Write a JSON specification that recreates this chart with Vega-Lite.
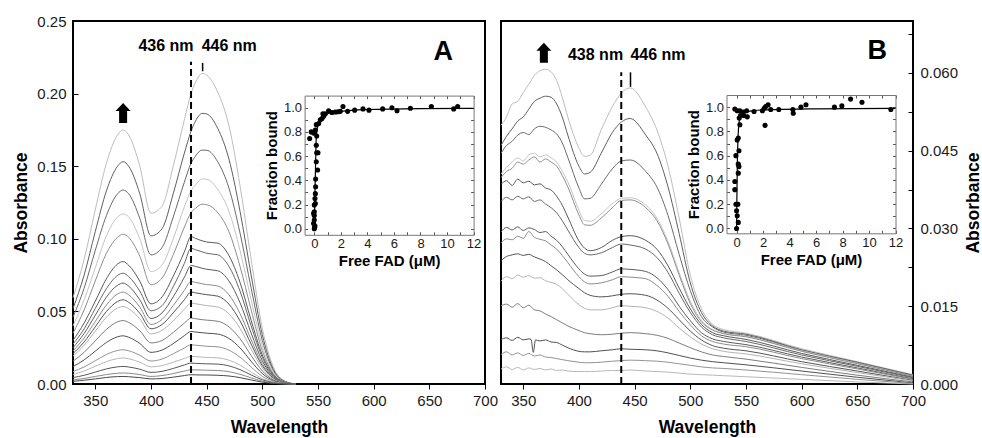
{
"$schema": "https://vega.github.io/schema/vega-lite/v6.json",
"padding": {"left": 11, "top": 13, "right": 0, "bottom": 0},
"background": "white",
"spacing": 16,
"bounds": "flush",
"config": {
 "font": "Liberation Sans",
 "view": {"stroke": "#000", "strokeWidth": 2},
 "axis": {"labelFont": "Liberation Sans", "labelFontSize": 15, "labelColor": "#1a1a1a", "titleFont": "Liberation Sans", "titleFontSize": 17.5, "titleFontWeight": "bold", "titleColor": "#000", "grid": false, "tickColor": "#000", "domainColor": "#000", "labelFlush": false, "labelOverlap": false, "labelBound": false}
},
"datasets": {
"specA": [
{"c":"a01","w":330,"a":0.0595},{"c":"a01","w":340,"a":0.0858},{"c":"a01","w":350,"a":0.120},{"c":"a01","w":360,"a":0.152},{"c":"a01","w":370,"a":0.1715},{"c":"a01","w":375,"a":0.175},{"c":"a01","w":380,"a":0.1715},{"c":"a01","w":390,"a":0.150},{"c":"a01","w":400,"a":0.1176},{"c":"a01","w":410,"a":0.1225},{"c":"a01","w":420,"a":0.150},{"c":"a01","w":430,"a":0.182},{"c":"a01","w":436,"a":0.200},{"c":"a01","w":440,"a":0.2075},{"c":"a01","w":446,"a":0.2139},{"c":"a01","w":450,"a":0.2128},{"c":"a01","w":460,"a":0.201},{"c":"a01","w":470,"a":0.178},{"c":"a01","w":480,"a":0.1365},{"c":"a01","w":490,"a":0.0858},{"c":"a01","w":500,"a":0.0385},{"c":"a01","w":510,"a":0.0117},{"c":"a01","w":520,"a":0.002},{"c":"a01","w":530,"a":0},
{"c":"a02","w":330,"a":0.052},{"c":"a02","w":340,"a":0.075},{"c":"a02","w":350,"a":0.105},{"c":"a02","w":360,"a":0.133},{"c":"a02","w":370,"a":0.150},{"c":"a02","w":375,"a":0.1531},{"c":"a02","w":380,"a":0.150},{"c":"a02","w":390,"a":0.131},{"c":"a02","w":400,"a":0.102},{"c":"a02","w":410,"a":0.107},{"c":"a02","w":420,"a":0.131},{"c":"a02","w":430,"a":0.159},{"c":"a02","w":436,"a":0.174},{"c":"a02","w":440,"a":0.181},{"c":"a02","w":446,"a":0.1864},{"c":"a02","w":450,"a":0.186},{"c":"a02","w":460,"a":0.176},{"c":"a02","w":470,"a":0.155},{"c":"a02","w":480,"a":0.119},{"c":"a02","w":490,"a":0.075},{"c":"a02","w":500,"a":0.034},{"c":"a02","w":510,"a":0.010},{"c":"a02","w":520,"a":0.002},{"c":"a02","w":530,"a":0},
{"c":"a03","w":330,"a":0.046},{"c":"a03","w":340,"a":0.066},{"c":"a03","w":350,"a":0.092},{"c":"a03","w":360,"a":0.116},{"c":"a03","w":370,"a":0.131},{"c":"a03","w":375,"a":0.1336},{"c":"a03","w":380,"a":0.131},{"c":"a03","w":390,"a":0.114},{"c":"a03","w":400,"a":0.0889},{"c":"a03","w":410,"a":0.094},{"c":"a03","w":420,"a":0.115},{"c":"a03","w":430,"a":0.139},{"c":"a03","w":436,"a":0.152},{"c":"a03","w":440,"a":0.157},{"c":"a03","w":446,"a":0.1611},{"c":"a03","w":450,"a":0.161},{"c":"a03","w":460,"a":0.153},{"c":"a03","w":470,"a":0.135},{"c":"a03","w":480,"a":0.104},{"c":"a03","w":490,"a":0.066},{"c":"a03","w":500,"a":0.030},{"c":"a03","w":510,"a":0.009},{"c":"a03","w":520,"a":0.0017},{"c":"a03","w":530,"a":0},
{"c":"a04","w":330,"a":0.040},{"c":"a04","w":340,"a":0.058},{"c":"a04","w":350,"a":0.080},{"c":"a04","w":360,"a":0.102},{"c":"a04","w":370,"a":0.115},{"c":"a04","w":375,"a":0.1171},{"c":"a04","w":380,"a":0.115},{"c":"a04","w":390,"a":0.100},{"c":"a04","w":400,"a":0.0774},{"c":"a04","w":410,"a":0.082},{"c":"a04","w":420,"a":0.100},{"c":"a04","w":430,"a":0.122},{"c":"a04","w":436,"a":0.133},{"c":"a04","w":440,"a":0.137},{"c":"a04","w":446,"a":0.1412},{"c":"a04","w":450,"a":0.141},{"c":"a04","w":460,"a":0.134},{"c":"a04","w":470,"a":0.119},{"c":"a04","w":480,"a":0.092},{"c":"a04","w":490,"a":0.058},{"c":"a04","w":500,"a":0.026},{"c":"a04","w":510,"a":0.008},{"c":"a04","w":520,"a":0.0015},{"c":"a04","w":530,"a":0},
{"c":"a05","w":330,"a":0.035},{"c":"a05","w":340,"a":0.051},{"c":"a05","w":350,"a":0.071},{"c":"a05","w":360,"a":0.090},{"c":"a05","w":370,"a":0.101},{"c":"a05","w":375,"a":0.1032},{"c":"a05","w":380,"a":0.101},{"c":"a05","w":390,"a":0.088},{"c":"a05","w":400,"a":0.0683},{"c":"a05","w":410,"a":0.073},{"c":"a05","w":420,"a":0.089},{"c":"a05","w":430,"a":0.108},{"c":"a05","w":436,"a":0.118},{"c":"a05","w":440,"a":0.121},{"c":"a05","w":446,"a":0.1238},{"c":"a05","w":450,"a":0.1235},{"c":"a05","w":460,"a":0.118},{"c":"a05","w":470,"a":0.105},{"c":"a05","w":480,"a":0.081},{"c":"a05","w":490,"a":0.051},{"c":"a05","w":500,"a":0.023},{"c":"a05","w":510,"a":0.007},{"c":"a05","w":520,"a":0.0013},{"c":"a05","w":530,"a":0},
{"c":"a06","w":330,"a":0.030},{"c":"a06","w":340,"a":0.042},{"c":"a06","w":350,"a":0.057},{"c":"a06","w":360,"a":0.0725},{"c":"a06","w":370,"a":0.0826},{"c":"a06","w":375,"a":0.0843},{"c":"a06","w":380,"a":0.0818},{"c":"a06","w":390,"a":0.0708},{"c":"a06","w":400,"a":0.0552},{"c":"a06","w":410,"a":0.060},{"c":"a06","w":420,"a":0.0742},{"c":"a06","w":430,"a":0.091},{"c":"a06","w":436,"a":0.1015},{"c":"a06","w":440,"a":0.1003},{"c":"a06","w":446,"a":0.0986},{"c":"a06","w":450,"a":0.0978},{"c":"a06","w":460,"a":0.097},{"c":"a06","w":470,"a":0.0885},{"c":"a06","w":480,"a":0.070},{"c":"a06","w":490,"a":0.0438},{"c":"a06","w":500,"a":0.020},{"c":"a06","w":510,"a":0.0063},{"c":"a06","w":520,"a":0.0013},{"c":"a06","w":530,"a":0},
{"c":"a07","w":330,"a":0.0275},{"c":"a07","w":340,"a":0.038},{"c":"a07","w":350,"a":0.052},{"c":"a07","w":360,"a":0.0656},{"c":"a07","w":370,"a":0.0748},{"c":"a07","w":375,"a":0.0763},{"c":"a07","w":380,"a":0.074},{"c":"a07","w":390,"a":0.064},{"c":"a07","w":400,"a":0.0504},{"c":"a07","w":410,"a":0.054},{"c":"a07","w":420,"a":0.067},{"c":"a07","w":430,"a":0.083},{"c":"a07","w":436,"a":0.0935},{"c":"a07","w":440,"a":0.0925},{"c":"a07","w":446,"a":0.091},{"c":"a07","w":450,"a":0.090},{"c":"a07","w":460,"a":0.089},{"c":"a07","w":470,"a":0.081},{"c":"a07","w":480,"a":0.064},{"c":"a07","w":490,"a":0.040},{"c":"a07","w":500,"a":0.0183},{"c":"a07","w":510,"a":0.0057},{"c":"a07","w":520,"a":0.0011},{"c":"a07","w":530,"a":0},
{"c":"a08","w":330,"a":0.025},{"c":"a08","w":340,"a":0.0348},{"c":"a08","w":350,"a":0.0473},{"c":"a08","w":360,"a":0.0598},{"c":"a08","w":370,"a":0.068},{"c":"a08","w":375,"a":0.0695},{"c":"a08","w":380,"a":0.0674},{"c":"a08","w":390,"a":0.058},{"c":"a08","w":400,"a":0.0451},{"c":"a08","w":410,"a":0.049},{"c":"a08","w":420,"a":0.060},{"c":"a08","w":430,"a":0.0735},{"c":"a08","w":436,"a":0.0816},{"c":"a08","w":440,"a":0.081},{"c":"a08","w":446,"a":0.0797},{"c":"a08","w":450,"a":0.079},{"c":"a08","w":460,"a":0.078},{"c":"a08","w":470,"a":0.071},{"c":"a08","w":480,"a":0.056},{"c":"a08","w":490,"a":0.035},{"c":"a08","w":500,"a":0.016},{"c":"a08","w":510,"a":0.005},{"c":"a08","w":520,"a":0.001},{"c":"a08","w":530,"a":0},
{"c":"a09","w":330,"a":0.0228},{"c":"a09","w":340,"a":0.0317},{"c":"a09","w":350,"a":0.043},{"c":"a09","w":360,"a":0.0544},{"c":"a09","w":370,"a":0.062},{"c":"a09","w":375,"a":0.0633},{"c":"a09","w":380,"a":0.0614},{"c":"a09","w":390,"a":0.053},{"c":"a09","w":400,"a":0.041},{"c":"a09","w":410,"a":0.0445},{"c":"a09","w":420,"a":0.054},{"c":"a09","w":430,"a":0.0645},{"c":"a09","w":436,"a":0.0706},{"c":"a09","w":440,"a":0.070},{"c":"a09","w":446,"a":0.069},{"c":"a09","w":450,"a":0.0685},{"c":"a09","w":460,"a":0.0675},{"c":"a09","w":470,"a":0.0615},{"c":"a09","w":480,"a":0.0485},{"c":"a09","w":490,"a":0.0305},{"c":"a09","w":500,"a":0.014},{"c":"a09","w":510,"a":0.0044},{"c":"a09","w":520,"a":0.001},{"c":"a09","w":530,"a":0},
{"c":"a10","w":330,"a":0.0209},{"c":"a10","w":340,"a":0.029},{"c":"a10","w":350,"a":0.0394},{"c":"a10","w":360,"a":0.0499},{"c":"a10","w":370,"a":0.0568},{"c":"a10","w":375,"a":0.058},{"c":"a10","w":380,"a":0.0563},{"c":"a10","w":390,"a":0.0487},{"c":"a10","w":400,"a":0.038},{"c":"a10","w":410,"a":0.041},{"c":"a10","w":420,"a":0.049},{"c":"a10","w":430,"a":0.058},{"c":"a10","w":436,"a":0.0633},{"c":"a10","w":440,"a":0.0628},{"c":"a10","w":446,"a":0.062},{"c":"a10","w":450,"a":0.0615},{"c":"a10","w":460,"a":0.0605},{"c":"a10","w":470,"a":0.055},{"c":"a10","w":480,"a":0.0435},{"c":"a10","w":490,"a":0.0274},{"c":"a10","w":500,"a":0.0126},{"c":"a10","w":510,"a":0.004},{"c":"a10","w":520,"a":0.0008},{"c":"a10","w":530,"a":0},
{"c":"a11","w":330,"a":0.0192},{"c":"a11","w":340,"a":0.0267},{"c":"a11","w":350,"a":0.0363},{"c":"a11","w":360,"a":0.046},{"c":"a11","w":370,"a":0.0523},{"c":"a11","w":375,"a":0.0534},{"c":"a11","w":380,"a":0.0518},{"c":"a11","w":390,"a":0.0449},{"c":"a11","w":400,"a":0.0345},{"c":"a11","w":410,"a":0.037},{"c":"a11","w":420,"a":0.0435},{"c":"a11","w":430,"a":0.0515},{"c":"a11","w":436,"a":0.0557},{"c":"a11","w":440,"a":0.0553},{"c":"a11","w":446,"a":0.0545},{"c":"a11","w":450,"a":0.054},{"c":"a11","w":460,"a":0.053},{"c":"a11","w":470,"a":0.0484},{"c":"a11","w":480,"a":0.0383},{"c":"a11","w":490,"a":0.024},{"c":"a11","w":500,"a":0.011},{"c":"a11","w":510,"a":0.0035},{"c":"a11","w":520,"a":0.0007},{"c":"a11","w":530,"a":0},
{"c":"a12","w":330,"a":0.0157},{"c":"a12","w":340,"a":0.0218},{"c":"a12","w":350,"a":0.0297},{"c":"a12","w":360,"a":0.0376},{"c":"a12","w":370,"a":0.0428},{"c":"a12","w":375,"a":0.0437},{"c":"a12","w":380,"a":0.0424},{"c":"a12","w":390,"a":0.0367},{"c":"a12","w":400,"a":0.0283},{"c":"a12","w":410,"a":0.030},{"c":"a12","w":420,"a":0.0355},{"c":"a12","w":430,"a":0.042},{"c":"a12","w":436,"a":0.0454},{"c":"a12","w":440,"a":0.045},{"c":"a12","w":446,"a":0.0443},{"c":"a12","w":450,"a":0.044},{"c":"a12","w":460,"a":0.0432},{"c":"a12","w":470,"a":0.0394},{"c":"a12","w":480,"a":0.0312},{"c":"a12","w":490,"a":0.0196},{"c":"a12","w":500,"a":0.009},{"c":"a12","w":510,"a":0.0028},{"c":"a12","w":520,"a":0.0006},{"c":"a12","w":530,"a":0},
{"c":"a13","w":330,"a":0.012},{"c":"a13","w":340,"a":0.0166},{"c":"a13","w":350,"a":0.0226},{"c":"a13","w":360,"a":0.0286},{"c":"a13","w":370,"a":0.0325},{"c":"a13","w":375,"a":0.0332},{"c":"a13","w":380,"a":0.0322},{"c":"a13","w":390,"a":0.0279},{"c":"a13","w":400,"a":0.0218},{"c":"a13","w":410,"a":0.0234},{"c":"a13","w":420,"a":0.0278},{"c":"a13","w":430,"a":0.0333},{"c":"a13","w":436,"a":0.0362},{"c":"a13","w":440,"a":0.0358},{"c":"a13","w":446,"a":0.0353},{"c":"a13","w":450,"a":0.035},{"c":"a13","w":460,"a":0.0344},{"c":"a13","w":470,"a":0.0314},{"c":"a13","w":480,"a":0.0249},{"c":"a13","w":490,"a":0.0156},{"c":"a13","w":500,"a":0.0072},{"c":"a13","w":510,"a":0.0023},{"c":"a13","w":520,"a":0.0005},{"c":"a13","w":530,"a":0},
{"c":"a14","w":330,"a":0.0085},{"c":"a14","w":340,"a":0.0118},{"c":"a14","w":350,"a":0.016},{"c":"a14","w":360,"a":0.0203},{"c":"a14","w":370,"a":0.0231},{"c":"a14","w":375,"a":0.0236},{"c":"a14","w":380,"a":0.0229},{"c":"a14","w":390,"a":0.0198},{"c":"a14","w":400,"a":0.0158},{"c":"a14","w":410,"a":0.0172},{"c":"a14","w":420,"a":0.0208},{"c":"a14","w":430,"a":0.0248},{"c":"a14","w":436,"a":0.027},{"c":"a14","w":440,"a":0.0267},{"c":"a14","w":446,"a":0.0263},{"c":"a14","w":450,"a":0.026},{"c":"a14","w":460,"a":0.0256},{"c":"a14","w":470,"a":0.0233},{"c":"a14","w":480,"a":0.0185},{"c":"a14","w":490,"a":0.0116},{"c":"a14","w":500,"a":0.0053},{"c":"a14","w":510,"a":0.0017},{"c":"a14","w":520,"a":0.0004},{"c":"a14","w":530,"a":0},
{"c":"a15","w":330,"a":0.0065},{"c":"a15","w":340,"a":0.009},{"c":"a15","w":350,"a":0.0122},{"c":"a15","w":360,"a":0.0154},{"c":"a15","w":370,"a":0.0175},{"c":"a15","w":375,"a":0.0179},{"c":"a15","w":380,"a":0.0174},{"c":"a15","w":390,"a":0.015},{"c":"a15","w":400,"a":0.0118},{"c":"a15","w":410,"a":0.0127},{"c":"a15","w":420,"a":0.015},{"c":"a15","w":430,"a":0.0176},{"c":"a15","w":436,"a":0.019},{"c":"a15","w":440,"a":0.0188},{"c":"a15","w":446,"a":0.0185},{"c":"a15","w":450,"a":0.0183},{"c":"a15","w":460,"a":0.018},{"c":"a15","w":470,"a":0.0164},{"c":"a15","w":480,"a":0.013},{"c":"a15","w":490,"a":0.0082},{"c":"a15","w":500,"a":0.0037},{"c":"a15","w":510,"a":0.0012},{"c":"a15","w":520,"a":0.0003},{"c":"a15","w":530,"a":0},
{"c":"a16","w":330,"a":0.0044},{"c":"a16","w":340,"a":0.006},{"c":"a16","w":350,"a":0.0082},{"c":"a16","w":360,"a":0.0104},{"c":"a16","w":370,"a":0.0118},{"c":"a16","w":375,"a":0.0121},{"c":"a16","w":380,"a":0.0117},{"c":"a16","w":390,"a":0.0102},{"c":"a16","w":400,"a":0.008},{"c":"a16","w":410,"a":0.0087},{"c":"a16","w":420,"a":0.0107},{"c":"a16","w":430,"a":0.0131},{"c":"a16","w":436,"a":0.0144},{"c":"a16","w":440,"a":0.0142},{"c":"a16","w":446,"a":0.014},{"c":"a16","w":450,"a":0.0139},{"c":"a16","w":460,"a":0.0137},{"c":"a16","w":470,"a":0.0125},{"c":"a16","w":480,"a":0.0099},{"c":"a16","w":490,"a":0.0062},{"c":"a16","w":500,"a":0.0029},{"c":"a16","w":510,"a":0.0009},{"c":"a16","w":520,"a":0.0002},{"c":"a16","w":530,"a":0},
{"c":"a17","w":330,"a":0.0028},{"c":"a17","w":340,"a":0.0038},{"c":"a17","w":350,"a":0.0052},{"c":"a17","w":360,"a":0.0065},{"c":"a17","w":370,"a":0.0074},{"c":"a17","w":375,"a":0.0076},{"c":"a17","w":380,"a":0.0074},{"c":"a17","w":390,"a":0.0065},{"c":"a17","w":400,"a":0.0052},{"c":"a17","w":410,"a":0.0058},{"c":"a17","w":420,"a":0.0072},{"c":"a17","w":430,"a":0.0089},{"c":"a17","w":436,"a":0.0098},{"c":"a17","w":440,"a":0.0097},{"c":"a17","w":446,"a":0.0096},{"c":"a17","w":450,"a":0.0095},{"c":"a17","w":460,"a":0.0093},{"c":"a17","w":470,"a":0.0085},{"c":"a17","w":480,"a":0.0067},{"c":"a17","w":490,"a":0.0042},{"c":"a17","w":500,"a":0.002},{"c":"a17","w":510,"a":0.0006},{"c":"a17","w":520,"a":0.0001},{"c":"a17","w":530,"a":0},
{"c":"a18","w":330,"a":0.0018},{"c":"a18","w":340,"a":0.0026},{"c":"a18","w":350,"a":0.0035},{"c":"a18","w":360,"a":0.0045},{"c":"a18","w":370,"a":0.0051},{"c":"a18","w":375,"a":0.0052},{"c":"a18","w":380,"a":0.005},{"c":"a18","w":390,"a":0.0044},{"c":"a18","w":400,"a":0.0035},{"c":"a18","w":410,"a":0.0038},{"c":"a18","w":420,"a":0.0047},{"c":"a18","w":430,"a":0.0058},{"c":"a18","w":436,"a":0.0064},{"c":"a18","w":440,"a":0.0063},{"c":"a18","w":446,"a":0.0062},{"c":"a18","w":450,"a":0.0062},{"c":"a18","w":460,"a":0.006},{"c":"a18","w":470,"a":0.0055},{"c":"a18","w":480,"a":0.0044},{"c":"a18","w":490,"a":0.0028},{"c":"a18","w":500,"a":0.0013},{"c":"a18","w":510,"a":0.0004},{"c":"a18","w":520,"a":0.0001},{"c":"a18","w":530,"a":0}
],
"specB": [
{"c":"b01","w":330,"a":0.0499},{"c":"b01","w":335,"a":0.0515},{"c":"b01","w":340,"a":0.0540},{"c":"b01","w":345,"a":0.0545},{"c":"b01","w":350,"a":0.0562},{"c":"b01","w":355,"a":0.0578},{"c":"b01","w":360,"a":0.0595},{"c":"b01","w":365,"a":0.0604},{"c":"b01","w":370,"a":0.0607},{"c":"b01","w":375,"a":0.0602},{"c":"b01","w":380,"a":0.0585},{"c":"b01","w":385,"a":0.0553},{"c":"b01","w":390,"a":0.0515},{"c":"b01","w":400,"a":0.0455},{"c":"b01","w":405,"a":0.0439},{"c":"b01","w":410,"a":0.0441},{"c":"b01","w":420,"a":0.0490},{"c":"b01","w":430,"a":0.0535},{"c":"b01","w":438,"a":0.0561},{"c":"b01","w":446,"a":0.0571},{"c":"b01","w":460,"a":0.0534},{"c":"b01","w":470,"a":0.049},{"c":"b01","w":480,"a":0.042},{"c":"b01","w":490,"a":0.032},{"c":"b01","w":500,"a":0.021},{"c":"b01","w":510,"a":0.0145},{"c":"b01","w":520,"a":0.0115},{"c":"b01","w":530,"a":0.0105},{"c":"b01","w":550,"a":0.0098},{"c":"b01","w":600,"a":0.0068},{"c":"b01","w":650,"a":0.0043},{"c":"b01","w":700,"a":0.0018},
{"c":"b02","w":330,"a":0.0460},{"c":"b02","w":335,"a":0.0478},{"c":"b02","w":340,"a":0.0492},{"c":"b02","w":345,"a":0.0507},{"c":"b02","w":350,"a":0.0515},{"c":"b02","w":355,"a":0.0530},{"c":"b02","w":360,"a":0.0545},{"c":"b02","w":365,"a":0.0551},{"c":"b02","w":370,"a":0.0555},{"c":"b02","w":375,"a":0.0553},{"c":"b02","w":380,"a":0.0540},{"c":"b02","w":385,"a":0.0515},{"c":"b02","w":390,"a":0.0480},{"c":"b02","w":400,"a":0.0420},{"c":"b02","w":405,"a":0.0405},{"c":"b02","w":410,"a":0.0408},{"c":"b02","w":420,"a":0.0445},{"c":"b02","w":430,"a":0.0485},{"c":"b02","w":438,"a":0.0505},{"c":"b02","w":446,"a":0.0512},{"c":"b02","w":460,"a":0.048},{"c":"b02","w":470,"a":0.0445},{"c":"b02","w":480,"a":0.038},{"c":"b02","w":490,"a":0.029},{"c":"b02","w":500,"a":0.0195},{"c":"b02","w":510,"a":0.0138},{"c":"b02","w":520,"a":0.0112},{"c":"b02","w":530,"a":0.0102},{"c":"b02","w":550,"a":0.0096},{"c":"b02","w":600,"a":0.0066},{"c":"b02","w":650,"a":0.0042},{"c":"b02","w":700,"a":0.0017},
{"c":"b03","w":330,"a":0.0445},{"c":"b03","w":335,"a":0.0460},{"c":"b03","w":340,"a":0.0468},{"c":"b03","w":345,"a":0.0480},{"c":"b03","w":350,"a":0.0485},{"c":"b03","w":355,"a":0.0481},{"c":"b03","w":360,"a":0.0492},{"c":"b03","w":365,"a":0.0497},{"c":"b03","w":370,"a":0.0495},{"c":"b03","w":375,"a":0.0490},{"c":"b03","w":380,"a":0.0482},{"c":"b03","w":385,"a":0.0465},{"c":"b03","w":390,"a":0.0437},{"c":"b03","w":400,"a":0.0378},{"c":"b03","w":405,"a":0.0357},{"c":"b03","w":410,"a":0.0358},{"c":"b03","w":420,"a":0.0385},{"c":"b03","w":430,"a":0.0415},{"c":"b03","w":438,"a":0.0430},{"c":"b03","w":446,"a":0.0432},{"c":"b03","w":460,"a":0.041},{"c":"b03","w":470,"a":0.038},{"c":"b03","w":480,"a":0.0325},{"c":"b03","w":490,"a":0.025},{"c":"b03","w":500,"a":0.018},{"c":"b03","w":510,"a":0.013},{"c":"b03","w":520,"a":0.011},{"c":"b03","w":530,"a":0.0100},{"c":"b03","w":550,"a":0.0094},{"c":"b03","w":600,"a":0.0065},{"c":"b03","w":650,"a":0.0041},{"c":"b03","w":700,"a":0.0016},
{"c":"b04","w":330,"a":0.0405},{"c":"b04","w":335,"a":0.0418},{"c":"b04","w":340,"a":0.0428},{"c":"b04","w":345,"a":0.0436},{"c":"b04","w":350,"a":0.0430},{"c":"b04","w":355,"a":0.0442},{"c":"b04","w":360,"a":0.0445},{"c":"b04","w":365,"a":0.0438},{"c":"b04","w":370,"a":0.0442},{"c":"b04","w":375,"a":0.0436},{"c":"b04","w":380,"a":0.0428},{"c":"b04","w":385,"a":0.0410},{"c":"b04","w":390,"a":0.0390},{"c":"b04","w":400,"a":0.0335},{"c":"b04","w":405,"a":0.0315},{"c":"b04","w":410,"a":0.0314},{"c":"b04","w":420,"a":0.0328},{"c":"b04","w":430,"a":0.0348},{"c":"b04","w":438,"a":0.0358},{"c":"b04","w":446,"a":0.0359},{"c":"b04","w":460,"a":0.0345},{"c":"b04","w":470,"a":0.032},{"c":"b04","w":480,"a":0.0275},{"c":"b04","w":490,"a":0.0215},{"c":"b04","w":500,"a":0.016},{"c":"b04","w":510,"a":0.0123},{"c":"b04","w":520,"a":0.0105},{"c":"b04","w":530,"a":0.0098},{"c":"b04","w":550,"a":0.0092},{"c":"b04","w":600,"a":0.0064},{"c":"b04","w":650,"a":0.004},{"c":"b04","w":700,"a":0.0015},
{"c":"b05","w":330,"a":0.0398},{"c":"b05","w":335,"a":0.0410},{"c":"b05","w":340,"a":0.0416},{"c":"b05","w":345,"a":0.0428},{"c":"b05","w":350,"a":0.0424},{"c":"b05","w":355,"a":0.0432},{"c":"b05","w":360,"a":0.0438},{"c":"b05","w":365,"a":0.0428},{"c":"b05","w":370,"a":0.0434},{"c":"b05","w":375,"a":0.0428},{"c":"b05","w":380,"a":0.0420},{"c":"b05","w":385,"a":0.0402},{"c":"b05","w":390,"a":0.0380},{"c":"b05","w":400,"a":0.0326},{"c":"b05","w":405,"a":0.0307},{"c":"b05","w":410,"a":0.0306},{"c":"b05","w":420,"a":0.0320},{"c":"b05","w":430,"a":0.0340},{"c":"b05","w":438,"a":0.0354},{"c":"b05","w":446,"a":0.0355},{"c":"b05","w":460,"a":0.034},{"c":"b05","w":470,"a":0.0315},{"c":"b05","w":480,"a":0.027},{"c":"b05","w":490,"a":0.021},{"c":"b05","w":500,"a":0.0155},{"c":"b05","w":510,"a":0.012},{"c":"b05","w":520,"a":0.0104},{"c":"b05","w":530,"a":0.0097},{"c":"b05","w":550,"a":0.0091},{"c":"b05","w":600,"a":0.0063},{"c":"b05","w":650,"a":0.0039},{"c":"b05","w":700,"a":0.0015},
{"c":"b06","w":330,"a":0.0385},{"c":"b06","w":335,"a":0.0392},{"c":"b06","w":340,"a":0.0383},{"c":"b06","w":345,"a":0.0395},{"c":"b06","w":350,"a":0.0388},{"c":"b06","w":355,"a":0.0391},{"c":"b06","w":360,"a":0.0384},{"c":"b06","w":365,"a":0.0386},{"c":"b06","w":370,"a":0.0378},{"c":"b06","w":375,"a":0.0374},{"c":"b06","w":380,"a":0.0362},{"c":"b06","w":385,"a":0.0345},{"c":"b06","w":390,"a":0.0322},{"c":"b06","w":400,"a":0.0276},{"c":"b06","w":405,"a":0.0262},{"c":"b06","w":410,"a":0.0257},{"c":"b06","w":420,"a":0.0263},{"c":"b06","w":430,"a":0.0277},{"c":"b06","w":438,"a":0.0284},{"c":"b06","w":446,"a":0.0286},{"c":"b06","w":460,"a":0.0277},{"c":"b06","w":470,"a":0.026},{"c":"b06","w":480,"a":0.0228},{"c":"b06","w":490,"a":0.0185},{"c":"b06","w":500,"a":0.0145},{"c":"b06","w":510,"a":0.0115},{"c":"b06","w":520,"a":0.0099},{"c":"b06","w":530,"a":0.0093},{"c":"b06","w":550,"a":0.0086},{"c":"b06","w":600,"a":0.0059},{"c":"b06","w":650,"a":0.0036},{"c":"b06","w":700,"a":0.0013},
{"c":"b07","w":330,"a":0.0352},{"c":"b07","w":335,"a":0.0360},{"c":"b07","w":340,"a":0.0355},{"c":"b07","w":345,"a":0.0362},{"c":"b07","w":350,"a":0.0357},{"c":"b07","w":355,"a":0.0361},{"c":"b07","w":360,"a":0.0352},{"c":"b07","w":365,"a":0.0355},{"c":"b07","w":370,"a":0.0347},{"c":"b07","w":375,"a":0.0340},{"c":"b07","w":380,"a":0.0330},{"c":"b07","w":385,"a":0.0315},{"c":"b07","w":390,"a":0.0297},{"c":"b07","w":400,"a":0.0263},{"c":"b07","w":405,"a":0.0252},{"c":"b07","w":410,"a":0.0249},{"c":"b07","w":420,"a":0.0253},{"c":"b07","w":430,"a":0.0263},{"c":"b07","w":438,"a":0.0270},{"c":"b07","w":446,"a":0.0268},{"c":"b07","w":460,"a":0.026},{"c":"b07","w":470,"a":0.0244},{"c":"b07","w":480,"a":0.0215},{"c":"b07","w":490,"a":0.0175},{"c":"b07","w":500,"a":0.0138},{"c":"b07","w":510,"a":0.011},{"c":"b07","w":520,"a":0.0095},{"c":"b07","w":530,"a":0.0089},{"c":"b07","w":550,"a":0.0082},{"c":"b07","w":600,"a":0.0056},{"c":"b07","w":650,"a":0.0034},{"c":"b07","w":700,"a":0.0012},
{"c":"b08","w":330,"a":0.0293},{"c":"b08","w":335,"a":0.0302},{"c":"b08","w":340,"a":0.0297},{"c":"b08","w":345,"a":0.0303},{"c":"b08","w":350,"a":0.0296},{"c":"b08","w":355,"a":0.0301},{"c":"b08","w":360,"a":0.0298},{"c":"b08","w":365,"a":0.0292},{"c":"b08","w":370,"a":0.0294},{"c":"b08","w":375,"a":0.0285},{"c":"b08","w":380,"a":0.0277},{"c":"b08","w":385,"a":0.0265},{"c":"b08","w":390,"a":0.0250},{"c":"b08","w":400,"a":0.0222},{"c":"b08","w":405,"a":0.0212},{"c":"b08","w":410,"a":0.0208},{"c":"b08","w":420,"a":0.0209},{"c":"b08","w":430,"a":0.0216},{"c":"b08","w":438,"a":0.0222},{"c":"b08","w":446,"a":0.0221},{"c":"b08","w":460,"a":0.0217},{"c":"b08","w":470,"a":0.0205},{"c":"b08","w":480,"a":0.0182},{"c":"b08","w":490,"a":0.015},{"c":"b08","w":500,"a":0.0122},{"c":"b08","w":510,"a":0.0099},{"c":"b08","w":520,"a":0.0087},{"c":"b08","w":530,"a":0.0082},{"c":"b08","w":550,"a":0.0076},{"c":"b08","w":600,"a":0.0052},{"c":"b08","w":650,"a":0.0031},{"c":"b08","w":700,"a":0.001},
{"c":"b09","w":330,"a":0.0272},{"c":"b09","w":335,"a":0.0280},{"c":"b09","w":340,"a":0.0278},{"c":"b09","w":345,"a":0.0285},{"c":"b09","w":350,"a":0.0281},{"c":"b09","w":355,"a":0.0294},{"c":"b09","w":360,"a":0.0283},{"c":"b09","w":365,"a":0.0279},{"c":"b09","w":370,"a":0.0276},{"c":"b09","w":375,"a":0.0268},{"c":"b09","w":380,"a":0.0260},{"c":"b09","w":385,"a":0.0248},{"c":"b09","w":390,"a":0.0234},{"c":"b09","w":400,"a":0.0207},{"c":"b09","w":405,"a":0.0197},{"c":"b09","w":410,"a":0.0193},{"c":"b09","w":420,"a":0.0195},{"c":"b09","w":430,"a":0.0201},{"c":"b09","w":438,"a":0.0207},{"c":"b09","w":446,"a":0.0206},{"c":"b09","w":460,"a":0.0203},{"c":"b09","w":470,"a":0.019},{"c":"b09","w":480,"a":0.0169},{"c":"b09","w":490,"a":0.014},{"c":"b09","w":500,"a":0.0114},{"c":"b09","w":510,"a":0.0093},{"c":"b09","w":520,"a":0.0082},{"c":"b09","w":530,"a":0.0077},{"c":"b09","w":550,"a":0.0072},{"c":"b09","w":600,"a":0.0049},{"c":"b09","w":650,"a":0.0029},{"c":"b09","w":700,"a":0.0009},
{"c":"b10","w":330,"a":0.0238},{"c":"b10","w":335,"a":0.0246},{"c":"b10","w":340,"a":0.0249},{"c":"b10","w":345,"a":0.0251},{"c":"b10","w":350,"a":0.0248},{"c":"b10","w":355,"a":0.0250},{"c":"b10","w":360,"a":0.0245},{"c":"b10","w":365,"a":0.0241},{"c":"b10","w":370,"a":0.0236},{"c":"b10","w":375,"a":0.0228},{"c":"b10","w":380,"a":0.0220},{"c":"b10","w":385,"a":0.0211},{"c":"b10","w":390,"a":0.0201},{"c":"b10","w":400,"a":0.0184},{"c":"b10","w":405,"a":0.0176},{"c":"b10","w":410,"a":0.0171},{"c":"b10","w":420,"a":0.0168},{"c":"b10","w":430,"a":0.0170},{"c":"b10","w":438,"a":0.0173},{"c":"b10","w":446,"a":0.0174},{"c":"b10","w":460,"a":0.0171},{"c":"b10","w":470,"a":0.0162},{"c":"b10","w":480,"a":0.0146},{"c":"b10","w":490,"a":0.0124},{"c":"b10","w":500,"a":0.0102},{"c":"b10","w":510,"a":0.0085},{"c":"b10","w":520,"a":0.0074},{"c":"b10","w":530,"a":0.0069},{"c":"b10","w":550,"a":0.0064},{"c":"b10","w":600,"a":0.0043},{"c":"b10","w":650,"a":0.0025},{"c":"b10","w":700,"a":0.0007},
{"c":"b11","w":330,"a":0.0198},{"c":"b11","w":335,"a":0.0207},{"c":"b11","w":340,"a":0.0203},{"c":"b11","w":345,"a":0.0210},{"c":"b11","w":350,"a":0.0206},{"c":"b11","w":355,"a":0.0209},{"c":"b11","w":360,"a":0.0204},{"c":"b11","w":365,"a":0.0205},{"c":"b11","w":370,"a":0.0199},{"c":"b11","w":375,"a":0.0196},{"c":"b11","w":380,"a":0.0192},{"c":"b11","w":385,"a":0.0184},{"c":"b11","w":390,"a":0.0173},{"c":"b11","w":400,"a":0.0153},{"c":"b11","w":405,"a":0.0146},{"c":"b11","w":410,"a":0.0143},{"c":"b11","w":420,"a":0.0143},{"c":"b11","w":430,"a":0.0147},{"c":"b11","w":438,"a":0.0151},{"c":"b11","w":446,"a":0.0150},{"c":"b11","w":460,"a":0.0147},{"c":"b11","w":470,"a":0.0140},{"c":"b11","w":480,"a":0.0127},{"c":"b11","w":490,"a":0.0108},{"c":"b11","w":500,"a":0.0091},{"c":"b11","w":510,"a":0.0077},{"c":"b11","w":520,"a":0.0068},{"c":"b11","w":530,"a":0.0063},{"c":"b11","w":550,"a":0.0058},{"c":"b11","w":600,"a":0.0039},{"c":"b11","w":650,"a":0.0022},{"c":"b11","w":700,"a":0.0006},
{"c":"b12","w":330,"a":0.0151},{"c":"b12","w":335,"a":0.0154},{"c":"b12","w":340,"a":0.0148},{"c":"b12","w":345,"a":0.0155},{"c":"b12","w":350,"a":0.0147},{"c":"b12","w":355,"a":0.0152},{"c":"b12","w":360,"a":0.0143},{"c":"b12","w":365,"a":0.0141},{"c":"b12","w":370,"a":0.0135},{"c":"b12","w":375,"a":0.0130},{"c":"b12","w":380,"a":0.0124},{"c":"b12","w":385,"a":0.0118},{"c":"b12","w":390,"a":0.0112},{"c":"b12","w":400,"a":0.0103},{"c":"b12","w":405,"a":0.0099},{"c":"b12","w":410,"a":0.0097},{"c":"b12","w":420,"a":0.0095},{"c":"b12","w":430,"a":0.0096},{"c":"b12","w":438,"a":0.0098},{"c":"b12","w":446,"a":0.0099},{"c":"b12","w":460,"a":0.0097},{"c":"b12","w":470,"a":0.0094},{"c":"b12","w":480,"a":0.0088},{"c":"b12","w":490,"a":0.0079},{"c":"b12","w":500,"a":0.0070},{"c":"b12","w":510,"a":0.0062},{"c":"b12","w":520,"a":0.0056},{"c":"b12","w":530,"a":0.0053},{"c":"b12","w":550,"a":0.0048},{"c":"b12","w":600,"a":0.0032},{"c":"b12","w":650,"a":0.0017},{"c":"b12","w":700,"a":0.0004},
{"c":"b13","w":330,"a":0.0086},{"c":"b13","w":335,"a":0.0089},{"c":"b13","w":340,"a":0.0084},{"c":"b13","w":345,"a":0.0090},{"c":"b13","w":350,"a":0.0085},{"c":"b13","w":355,"a":0.0087},{"c":"b13","w":357,"a":0.0086},{"c":"b13","w":359,"a":0.0061},{"c":"b13","w":361,"a":0.0085},{"c":"b13","w":365,"a":0.0083},{"c":"b13","w":370,"a":0.0085},{"c":"b13","w":375,"a":0.0081},{"c":"b13","w":380,"a":0.0080},{"c":"b13","w":385,"a":0.0075},{"c":"b13","w":390,"a":0.0070},{"c":"b13","w":400,"a":0.0063},{"c":"b13","w":405,"a":0.0062},{"c":"b13","w":410,"a":0.0062},{"c":"b13","w":420,"a":0.0064},{"c":"b13","w":430,"a":0.0066},{"c":"b13","w":438,"a":0.0068},{"c":"b13","w":446,"a":0.0067},{"c":"b13","w":460,"a":0.0066},{"c":"b13","w":470,"a":0.0064},{"c":"b13","w":480,"a":0.0060},{"c":"b13","w":490,"a":0.0055},{"c":"b13","w":500,"a":0.0050},{"c":"b13","w":510,"a":0.0046},{"c":"b13","w":520,"a":0.0043},{"c":"b13","w":530,"a":0.0041},{"c":"b13","w":550,"a":0.0037},{"c":"b13","w":600,"a":0.0025},{"c":"b13","w":650,"a":0.0013},{"c":"b13","w":700,"a":0.0002},
{"c":"b14","w":330,"a":0.0057},{"c":"b14","w":335,"a":0.0062},{"c":"b14","w":340,"a":0.0056},{"c":"b14","w":345,"a":0.0060},{"c":"b14","w":350,"a":0.0055},{"c":"b14","w":355,"a":0.0059},{"c":"b14","w":360,"a":0.0054},{"c":"b14","w":365,"a":0.0056},{"c":"b14","w":370,"a":0.0052},{"c":"b14","w":375,"a":0.0051},{"c":"b14","w":380,"a":0.0049},{"c":"b14","w":385,"a":0.0047},{"c":"b14","w":390,"a":0.0045},{"c":"b14","w":400,"a":0.0042},{"c":"b14","w":405,"a":0.0041},{"c":"b14","w":410,"a":0.0041},{"c":"b14","w":420,"a":0.0042},{"c":"b14","w":430,"a":0.0044},{"c":"b14","w":438,"a":0.0045},{"c":"b14","w":446,"a":0.0046},{"c":"b14","w":460,"a":0.0045},{"c":"b14","w":470,"a":0.0044},{"c":"b14","w":480,"a":0.0042},{"c":"b14","w":490,"a":0.0039},{"c":"b14","w":500,"a":0.0036},{"c":"b14","w":510,"a":0.0033},{"c":"b14","w":520,"a":0.0031},{"c":"b14","w":530,"a":0.0030},{"c":"b14","w":550,"a":0.0027},{"c":"b14","w":600,"a":0.0018},{"c":"b14","w":650,"a":0.0009},{"c":"b14","w":700,"a":0.0001},
{"c":"b15","w":330,"a":0.0029},{"c":"b15","w":335,"a":0.0033},{"c":"b15","w":340,"a":0.0028},{"c":"b15","w":345,"a":0.0032},{"c":"b15","w":350,"a":0.0027},{"c":"b15","w":355,"a":0.0031},{"c":"b15","w":360,"a":0.0028},{"c":"b15","w":365,"a":0.0030},{"c":"b15","w":370,"a":0.0027},{"c":"b15","w":375,"a":0.0029},{"c":"b15","w":380,"a":0.0026},{"c":"b15","w":385,"a":0.0027},{"c":"b15","w":390,"a":0.0025},{"c":"b15","w":400,"a":0.0024},{"c":"b15","w":405,"a":0.0024},{"c":"b15","w":410,"a":0.0024},{"c":"b15","w":420,"a":0.0025},{"c":"b15","w":430,"a":0.0026},{"c":"b15","w":438,"a":0.0026},{"c":"b15","w":446,"a":0.0027},{"c":"b15","w":460,"a":0.0025},{"c":"b15","w":470,"a":0.0024},{"c":"b15","w":480,"a":0.0023},{"c":"b15","w":490,"a":0.0021},{"c":"b15","w":500,"a":0.0019},{"c":"b15","w":510,"a":0.0018},{"c":"b15","w":520,"a":0.0017},{"c":"b15","w":530,"a":0.0016},{"c":"b15","w":550,"a":0.0014},{"c":"b15","w":600,"a":0.0009},{"c":"b15","w":650,"a":0.0004},{"c":"b15","w":700,"a":0.0}
],
"ptsA": [
{"fx":-0.35,"fy":0.746},{"fx":-0.23,"fy":0.80},{"fx":-0.05,"fy":0.79},{"fx":0.08,"fy":0.815},{"fx":0.15,"fy":0.86},{"fx":0.33,"fy":0.87},{"fx":0.45,"fy":0.90},{"fx":0.58,"fy":0.91},{"fx":0.7,"fy":0.93},{"fx":0.65,"fy":0.95},{"fx":0.83,"fy":0.95},{"fx":1.08,"fy":0.975},{"fx":1.33,"fy":0.96},{"fx":1.58,"fy":0.965},{"fx":1.78,"fy":0.967},{"fx":1.96,"fy":0.97},{"fx":2.16,"fy":1.01},{"fx":2.51,"fy":0.97},{"fx":3.04,"fy":0.98},{"fx":3.67,"fy":0.99},{"fx":4.12,"fy":0.98},{"fx":5.15,"fy":0.99},{"fx":5.85,"fy":1.0},{"fx":6.23,"fy":0.975},{"fx":7.24,"fy":0.995},{"fx":8.82,"fy":1.01},{"fx":10.5,"fy":0.99},{"fx":10.8,"fy":1.01},
{"fx":0,"fy":0},{"fx":0.05,"fy":0.022},{"fx":-0.05,"fy":0.044},{"fx":0,"fy":0.072},{"fx":-0.05,"fy":0.127},{"fx":0,"fy":0.14},{"fx":0,"fy":0.196},{"fx":0.08,"fy":0.209},{"fx":0.05,"fy":0.25},{"fx":0.08,"fy":0.29},{"fx":0.1,"fy":0.347},{"fx":0.1,"fy":0.41},{"fx":0.25,"fy":0.485},{"fx":0.15,"fy":0.554},{"fx":0.18,"fy":0.628},{"fx":0.28,"fy":0.628},{"fx":0.15,"fy":0.69},{"fx":0.18,"fy":0.766},{"fx":0.02,"fy":0.01},{"fx":0.0,"fy":0.11}
],
"fitA": [
{"fx":0,"fy":0},{"fx":0.05,"fy":0.3},{"fx":0.1,"fy":0.55},{"fx":0.15,"fy":0.76},{"fx":0.25,"fy":0.84},{"fx":0.4,"fy":0.89},{"fx":0.6,"fy":0.925},{"fx":1.0,"fy":0.95},{"fx":2,"fy":0.97},{"fx":4,"fy":0.985},{"fx":8,"fy":0.993},{"fx":12,"fy":0.995}
],
"ptsB": [
{"fx":-0.13,"fy":0.984},{"fx":0.25,"fy":0.97},{"fx":0.76,"fy":0.97},{"fx":0.5,"fy":0.96},{"fx":0.3,"fy":0.93},{"fx":0.56,"fy":0.93},{"fx":0.81,"fy":0.92},{"fx":1.32,"fy":0.964},{"fx":1.95,"fy":0.97},{"fx":2.08,"fy":0.99},{"fx":2.2,"fy":1.005},{"fx":2.38,"fy":1.02},{"fx":2.15,"fy":0.85},{"fx":2.58,"fy":0.98},{"fx":3.19,"fy":0.98},{"fx":4.25,"fy":0.98},{"fx":4.28,"fy":0.95},{"fx":4.86,"fy":1.0},{"fx":5.24,"fy":1.02},{"fx":7.39,"fy":1.0},{"fx":7.95,"fy":1.01},{"fx":8.61,"fy":1.066},{"fx":9.47,"fy":1.04},{"fx":11.65,"fy":0.98},
{"fx":-0.13,"fy":0.387},{"fx":-0.13,"fy":0.32},{"fx":-0.05,"fy":0.6},{"fx":0.05,"fy":0.73},{"fx":0.13,"fy":0.745},{"fx":0.18,"fy":0.64},{"fx":0.13,"fy":0.53},{"fx":0.18,"fy":0.51},{"fx":0.13,"fy":0.456},{"fx":0.25,"fy":0.855},{"fx":-0.05,"fy":0.2},{"fx":0.1,"fy":0.2},{"fx":0.0,"fy":0.146},{"fx":0.05,"fy":0.104},{"fx":0.13,"fy":0.05},{"fx":0.0,"fy":0.0},{"fx":0.05,"fy":0.97},{"fx":0.2,"fy":0.91}
],
"fitB": [
{"fx":0,"fy":0},{"fx":0.03,"fy":0.3},{"fx":0.06,"fy":0.55},{"fx":0.1,"fy":0.72},{"fx":0.15,"fy":0.83},{"fx":0.25,"fy":0.91},{"fx":0.4,"fy":0.945},{"fx":0.7,"fy":0.96},{"fx":1.2,"fy":0.97},{"fx":3,"fy":0.98},{"fx":6,"fy":0.986},{"fx":12,"fy":0.99}
]
},
"hconcat": [
{
 "width": 412, "height": 363,
 "layer": [
  {
   "layer": [
    {"data": {"name": "specA"}, "mark": {"type": "line", "strokeWidth": 1, "interpolate": "monotone"},
     "encoding": {
      "x": {"field": "w", "type": "quantitative", "scale": {"domain": [330, 700], "nice": false, "zero": false},
            "axis": {"orient": "bottom", "title": "Wavelength", "values": [350,375,400,425,450,475,500,525,550,575,600,625,650,675,700], "labelExpr": "datum.value % 50 === 0 ? datum.label : ''", "tickSize": 5, "labelPadding": 4, "titlePadding": 10, "domain": false}},
      "y": {"field": "a", "type": "quantitative", "scale": {"domain": [0, 0.25], "nice": false, "zero": false},
            "axis": {"orient": "left", "title": "Absorbance", "values": [0,0.025,0.05,0.075,0.1,0.125,0.15,0.175,0.2,0.225,0.25], "labelExpr": "round(datum.value*1000) % 50 === 0 ? format(datum.value, '.2f') : ''", "tickSize": -5, "labelPadding": 12, "titlePadding": 6, "domain": false}},
      "color": {"field": "c", "type": "nominal", "legend": null,
        "scale": {"domain": ["a01","a02","a03","a04","a05","a06","a07","a08","a09","a10","a11","a12","a13","a14","a15","a16","a17","a18"],
                  "range": ["#bdbdbd","#5f5f5f","#6a6a6a","#c4c4c4","#8e8e8e","#595959","#676767","#5c5c5c","#8c8c8c","#545454","#b3b3b3","#7d7d7d","#505050","#939393","#b8b8b8","#585858","#8a8a8a","#4a4a4a"]}}
     }},
    {"data": {"values": [{"w": 436, "a": 0, "a2": 0.222}]}, "mark": {"type": "rule", "color": "#000", "strokeWidth": 2, "strokeDash": [7, 4]},
     "encoding": {"x": {"field": "w", "type": "quantitative"}, "y": {"field": "a", "type": "quantitative"}, "y2": {"field": "a2"}}},
    {"data": {"values": [{"w": 446.4, "a": 0.2154, "a2": 0.2211}]}, "mark": {"type": "rule", "color": "#000", "strokeWidth": 1.5},
     "encoding": {"x": {"field": "w", "type": "quantitative"}, "y": {"field": "a", "type": "quantitative"}, "y2": {"field": "a2"}}},
    {"data": {"values": [{"w": 413.5, "a": 0.2329, "t": "436 nm"}, {"w": 470.3, "a": 0.2329, "t": "446 nm"}]},
     "mark": {"type": "text", "font": "Liberation Sans", "fontSize": 16, "fontWeight": "bold", "color": "#000", "align": "center", "baseline": "middle"},
     "encoding": {"x": {"field": "w", "type": "quantitative"}, "y": {"field": "a", "type": "quantitative"}, "text": {"field": "t"}}},
    {"data": {"values": [{"w": 662.4, "a": 0.2288, "t": "A"}]},
     "mark": {"type": "text", "font": "Liberation Sans", "fontSize": 27, "fontWeight": "bold", "color": "#000", "align": "center", "baseline": "middle"},
     "encoding": {"x": {"field": "w", "type": "quantitative"}, "y": {"field": "a", "type": "quantitative"}, "text": {"field": "t"}}},
    {"data": {"values": [{"w": 375, "a": 0.1866}]},
     "mark": {"type": "point", "filled": true, "color": "#000", "opacity": 1, "size": 400, "strokeWidth": 0, "shape": "M-0.4,1 L-0.4,-0.2 L-0.75,-0.2 L0,-1 L0.75,-0.2 L0.4,-0.2 L0.4,1 Z"},
     "encoding": {"x": {"field": "w", "type": "quantitative"}, "y": {"field": "a", "type": "quantitative"}}}
   ]
  },
  {
   "layer": [
    {"data": {"name": "ptsA"}, "mark": {"type": "circle", "color": "#000", "size": 26, "opacity": 1},
     "encoding": {
      "x": {"field": "fx", "type": "quantitative", "scale": {"domain": [-0.73, 12], "range": [231.6, 400.6], "nice": false, "zero": false},
            "axis": {"orient": "bottom", "offset": -149.2, "title": "Free FAD (μM)", "titleFontSize": 15, "titlePadding": 3, "labelFontSize": 13, "values": [0,1,2,3,4,5,6,7,8,9,10,11,12], "labelExpr": "datum.value % 2 === 0 ? datum.label : ''", "tickSize": -3, "labelPadding": 6, "domain": true, "domainColor": "#777", "domainWidth": 1, "tickColor": "#555"}},
      "y": {"field": "fy", "type": "quantitative", "scale": {"domain": [-0.05, 1.1], "range": [213.8, 74.6], "nice": false, "zero": false},
            "axis": {"orient": "left", "offset": -231.6, "title": "Fraction bound", "titleFontSize": 15, "titlePadding": 4, "labelFontSize": 13, "values": [0,0.1,0.2,0.3,0.4,0.5,0.6,0.7,0.8,0.9,1.0], "labelExpr": "round(datum.value*10) % 2 === 0 ? format(datum.value, '.1f') : ''", "tickSize": -3, "labelPadding": 6, "domain": true, "domainColor": "#777", "domainWidth": 1, "tickColor": "#555"}}
     }},
    {"data": {"name": "fitA"}, "mark": {"type": "line", "color": "#000", "strokeWidth": 1.2, "interpolate": "monotone"},
     "encoding": {
      "x": {"field": "fx", "type": "quantitative", "scale": {"domain": [-0.73, 12], "range": [231.6, 400.6], "nice": false, "zero": false},
            "axis": {"orient": "top", "offset": -74.6, "title": null, "labels": false, "values": [0,1,2,3,4,5,6,7,8,9,10,11,12], "tickSize": -3, "domain": true, "domainColor": "#777", "domainWidth": 1, "tickColor": "#555"}},
      "y": {"field": "fy", "type": "quantitative", "scale": {"domain": [-0.05, 1.1], "range": [213.8, 74.6], "nice": false, "zero": false},
            "axis": {"orient": "right", "offset": -11.4, "title": null, "labels": false, "values": [0,0.1,0.2,0.3,0.4,0.5,0.6,0.7,0.8,0.9,1.0], "tickSize": -3, "domain": true, "domainColor": "#777", "domainWidth": 1, "tickColor": "#555"}}
     }}
   ],
   "resolve": {"axis": {"x": "independent", "y": "independent"}}
  }
 ],
 "resolve": {"scale": {"x": "independent", "y": "independent"}, "axis": {"x": "independent", "y": "independent"}}
},
{
 "width": 412, "height": 363,
 "layer": [
  {
   "layer": [
    {"data": {"name": "specB"}, "mark": {"type": "line", "strokeWidth": 1, "interpolate": "monotone"},
     "encoding": {
      "x": {"field": "w", "type": "quantitative", "scale": {"domain": [330, 700], "nice": false, "zero": false},
            "axis": {"orient": "bottom", "title": "Wavelength", "values": [350,375,400,425,450,475,500,525,550,575,600,625,650,675,700], "labelExpr": "datum.value % 50 === 0 ? datum.label : ''", "tickSize": 5, "labelPadding": 4, "titlePadding": 10, "domain": false}},
      "y": {"field": "a", "type": "quantitative", "scale": {"domain": [0, 0.07], "nice": false, "zero": false},
            "axis": {"orient": "right", "title": "Absorbance", "titleAngle": 270, "titleBaseline": "top", "values": [0,0.0075,0.015,0.0225,0.03,0.0375,0.045,0.0525,0.06,0.0675], "labelExpr": "round(datum.value*10000) % 150 === 0 ? format(datum.value, '.3f') : ''", "tickSize": -5, "labelPadding": 12, "titlePadding": 7, "domain": false}},
      "color": {"field": "c", "type": "nominal", "legend": null,
        "scale": {"domain": ["b01","b02","b03","b04","b05","b06","b07","b08","b09","b10","b11","b12","b13","b14","b15"],
                  "range": ["#676767","#b0b0b0","#5a5a5a","#6e6e6e","#a0a0a0","#5e5e5e","#7a7a7a","#555555","#8a8a8a","#d2d2d2","#6a6a6a","#c2c2c2","#555555","#bdbdbd","#707070"]}}
     }},
    {"data": {"values": [{"w": 438, "a": 0, "a2": 0.0601}]}, "mark": {"type": "rule", "color": "#000", "strokeWidth": 2, "strokeDash": [7, 4]},
     "encoding": {"x": {"field": "w", "type": "quantitative"}, "y": {"field": "a", "type": "quantitative"}, "y2": {"field": "a2"}}},
    {"data": {"values": [{"w": 446.3, "a": 0.0573, "a2": 0.0601}]}, "mark": {"type": "rule", "color": "#000", "strokeWidth": 1.5},
     "encoding": {"x": {"field": "w", "type": "quantitative"}, "y": {"field": "a", "type": "quantitative"}, "y2": {"field": "a2"}}},
    {"data": {"values": [{"w": 414.9, "a": 0.0634, "t": "438 nm"}, {"w": 471, "a": 0.0634, "t": "446 nm"}]},
     "mark": {"type": "text", "font": "Liberation Sans", "fontSize": 16, "fontWeight": "bold", "color": "#000", "align": "center", "baseline": "middle"},
     "encoding": {"x": {"field": "w", "type": "quantitative"}, "y": {"field": "a", "type": "quantitative"}, "text": {"field": "t"}}},
    {"data": {"values": [{"w": 668, "a": 0.0643, "t": "B"}]},
     "mark": {"type": "text", "font": "Liberation Sans", "fontSize": 27, "fontWeight": "bold", "color": "#000", "align": "center", "baseline": "middle"},
     "encoding": {"x": {"field": "w", "type": "quantitative"}, "y": {"field": "a", "type": "quantitative"}, "text": {"field": "t"}}},
    {"data": {"values": [{"w": 368.5, "a": 0.0639}]},
     "mark": {"type": "point", "filled": true, "color": "#000", "opacity": 1, "size": 400, "strokeWidth": 0, "shape": "M-0.4,1 L-0.4,-0.2 L-0.75,-0.2 L0,-1 L0.75,-0.2 L0.4,-0.2 L0.4,1 Z"},
     "encoding": {"x": {"field": "w", "type": "quantitative"}, "y": {"field": "a", "type": "quantitative"}}}
   ]
  },
  {
   "layer": [
    {"data": {"name": "ptsB"}, "mark": {"type": "circle", "color": "#000", "size": 26, "opacity": 1},
     "encoding": {
      "x": {"field": "fx", "type": "quantitative", "scale": {"domain": [-0.76, 12], "range": [225.5, 394.5], "nice": false, "zero": false},
            "axis": {"orient": "bottom", "offset": -150.7, "title": "Free FAD (μM)", "titleFontSize": 15, "titlePadding": 3, "labelFontSize": 13, "values": [0,1,2,3,4,5,6,7,8,9,10,11,12], "labelExpr": "datum.value % 2 === 0 ? datum.label : ''", "tickSize": -3, "labelPadding": 6, "domain": true, "domainColor": "#777", "domainWidth": 1, "tickColor": "#555"}},
      "y": {"field": "fy", "type": "quantitative", "scale": {"domain": [-0.04, 1.1], "range": [212.3, 74], "nice": false, "zero": false},
            "axis": {"orient": "left", "offset": -225.5, "title": "Fraction bound", "titleFontSize": 15, "titlePadding": 4, "labelFontSize": 13, "values": [0,0.1,0.2,0.3,0.4,0.5,0.6,0.7,0.8,0.9,1.0], "labelExpr": "round(datum.value*10) % 2 === 0 ? format(datum.value, '.1f') : ''", "tickSize": -3, "labelPadding": 6, "domain": true, "domainColor": "#777", "domainWidth": 1, "tickColor": "#555"}}
     }},
    {"data": {"name": "fitB"}, "mark": {"type": "line", "color": "#000", "strokeWidth": 1.2, "interpolate": "monotone"},
     "encoding": {
      "x": {"field": "fx", "type": "quantitative", "scale": {"domain": [-0.76, 12], "range": [225.5, 394.5], "nice": false, "zero": false},
            "axis": {"orient": "top", "offset": -74, "title": null, "labels": false, "values": [0,1,2,3,4,5,6,7,8,9,10,11,12], "tickSize": -3, "domain": true, "domainColor": "#777", "domainWidth": 1, "tickColor": "#555"}},
      "y": {"field": "fy", "type": "quantitative", "scale": {"domain": [-0.04, 1.1], "range": [212.3, 74], "nice": false, "zero": false},
            "axis": {"orient": "right", "offset": -17.5, "title": null, "labels": false, "values": [0,0.1,0.2,0.3,0.4,0.5,0.6,0.7,0.8,0.9,1.0], "tickSize": -3, "domain": true, "domainColor": "#777", "domainWidth": 1, "tickColor": "#555"}}
     }}
   ],
   "resolve": {"axis": {"x": "independent", "y": "independent"}}
  }
 ],
 "resolve": {"scale": {"x": "independent", "y": "independent"}, "axis": {"x": "independent", "y": "independent"}}
}
]
}
